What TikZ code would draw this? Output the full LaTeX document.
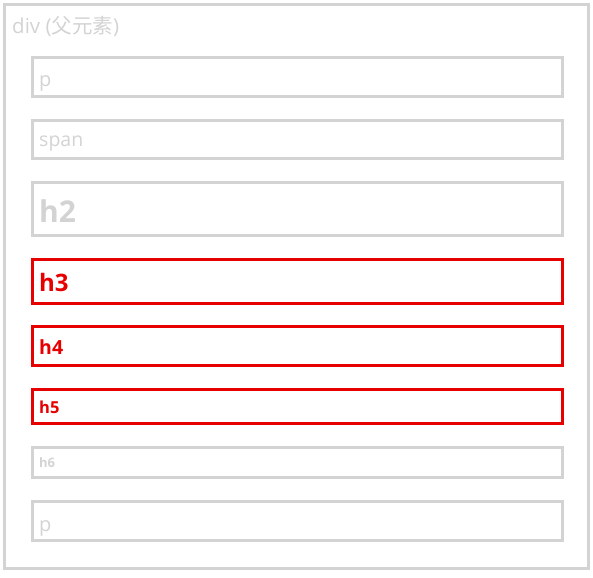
\documentclass[tikz,border=0pt]{standalone}
\usepackage{fontspec}
\setmainfont{Open Sans}
\newfontfamily\cjk{Noto Sans CJK SC}
\definecolor{lightg}{HTML}{D3D3D3}
\definecolor{hred}{HTML}{E60000}
\tikzset{
  greybox/.style={draw=lightg, line width=3pt},
  redbox/.style={draw=hred, line width=3pt},
  greytxt/.style={text=lightg, anchor=base west, inner sep=0pt},
  redtxt/.style={text=hred, anchor=base west, inner sep=0pt},
}
\begin{document}
\begin{tikzpicture}[x=1pt,y=-1pt]
\useasboundingbox (0,0) rectangle (593,577);
\draw[greybox] (4.5,4.5) rectangle (588.5,568.5);
\node[greytxt, font=\fontsize{20.5}{24}\selectfont] (div) at (12,34) {div ({\cjk 父元素})};
\draw[greybox] (32,58) rectangle (562,97);
\node[greytxt, font=\fontsize{20}{24}\selectfont] (p1) at (39,87) {p};
\draw[greybox] (32,121) rectangle (562,159);
\node[greytxt, font=\fontsize{19.5}{24}\selectfont] (span) at (39,147) {span};
\draw[greybox] (32,183) rectangle (562,235);
\node[greytxt, font=\fontsize{30}{34}\selectfont\bfseries] (h2) at (39,222) {h2};
\draw[redbox] (32,259) rectangle (562,303);
\node[redtxt, font=\fontsize{24}{28}\selectfont\bfseries] (h3) at (39,291) {h3};
\draw[redbox] (32,326) rectangle (562,365);
\node[redtxt, font=\fontsize{19.5}{24}\selectfont\bfseries] (h4) at (39,354) {h4};
\draw[redbox] (32,389) rectangle (562,423);
\node[redtxt, font=\fontsize{16.5}{20}\selectfont\bfseries] (h5) at (39,413) {h5};
\draw[greybox] (32,447) rectangle (562,477);
\node[greytxt, font=\fontsize{13}{16}\selectfont\bfseries] (h6) at (39,467) {h6};
\draw[greybox] (32,501) rectangle (562,540);
\node[greytxt, font=\fontsize{20}{24}\selectfont] (p2) at (39,531) {p};
\end{tikzpicture}
\end{document}
